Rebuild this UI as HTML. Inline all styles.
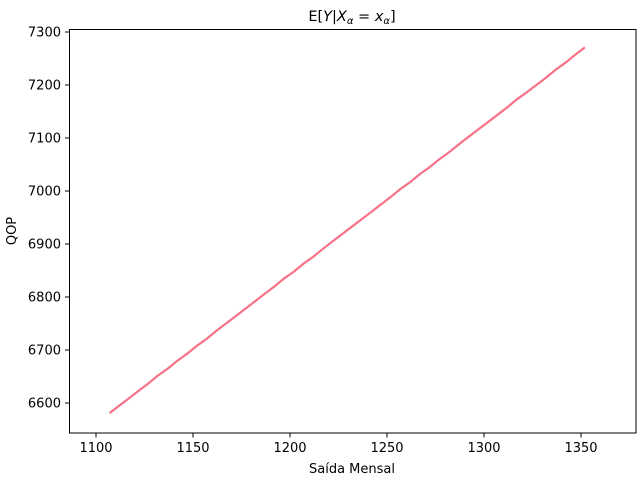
<!DOCTYPE html>
<html><head><meta charset="utf-8"><style>
body{margin:0;background:#fff;}
svg text{font-family:"DejaVu Sans","Liberation Sans",sans-serif;fill:#000;}
</style></head><body>
<svg id="chart" width="640" height="480" xmlns="http://www.w3.org/2000/svg">
<rect x="0" y="0" width="640" height="480" fill="#fff"/>
<g id="plot"></g>
<rect x="69.5" y="29.5" width="566.5" height="403.5" fill="none" stroke="#000" stroke-width="1"/>
<g id="xt"></g>
<g id="yt"></g>
<text x="352" y="21" font-size="14.5" text-anchor="middle">E[<tspan font-style="italic">Y</tspan>|<tspan font-style="italic">X</tspan><tspan font-style="italic" font-size="10" dy="3">α</tspan><tspan dy="-3"> = </tspan><tspan font-style="italic">x</tspan><tspan font-style="italic" font-size="10" dy="3">α</tspan><tspan dy="-3">]</tspan></text>
<text x="352" y="473" font-size="13" text-anchor="middle">Saída Mensal</text>
<text x="16" y="231" font-size="13" text-anchor="middle" transform="rotate(-90 16 231)">QOP</text>
</svg>
<script>
const xs=[1107,1112,1117,1122,1127,1132,1137,1142,1147,1152,1157,1162,1167,1172,1177,1182,1187,1192,1197,1202,1207,1212,1217,1222,1227,1232,1237,1242,1247,1252,1257,1262,1267,1272,1277,1282,1287,1292,1297,1302,1307,1312,1317,1322,1327,1332,1337,1342,1347,1352];
const ys=[6581,6595,6609,6623,6637,6652,6665,6680,6693,6708,6721,6736,6750,6764,6778,6792,6806,6820,6835,6848,6863,6876,6891,6905,6919,6933,6947,6961,6975,6989,7004,7017,7032,7045,7060,7073,7088,7102,7116,7130,7144,7158,7173,7186,7200,7214,7229,7242,7257,7271];
const xTicks=[1100,1150,1200,1250,1300,1350];
const yTicks=[6600,6700,6800,6900,7000,7100,7200,7300];
const NS="http://www.w3.org/2000/svg";
function X(v){return 96+(v-1100)*(485/250);}
function Y(v){return 403-(v-6600)*(371/700);}
const plot=document.getElementById('plot');
const line=document.createElementNS(NS,'polyline');
line.setAttribute('points',xs.map((x,i)=>X(x).toFixed(1)+','+Y(ys[i]).toFixed(1)).join(' '));
line.setAttribute('fill','none');line.setAttribute('stroke','#f77189');line.setAttribute('stroke-width','2.2');


plot.appendChild(line);
const xt=document.getElementById('xt');
xTicks.forEach(t=>{
 const l=document.createElementNS(NS,'line');
 l.setAttribute('x1',X(t));l.setAttribute('x2',X(t));l.setAttribute('y1',433);l.setAttribute('y2',437.5);l.setAttribute('stroke','#000');
 
 
 xt.appendChild(l);
 const s=document.createElementNS(NS,'text');
 s.setAttribute('x',X(t));s.setAttribute('y',452);s.setAttribute('font-size','13');s.setAttribute('text-anchor','middle');
 s.textContent=t;
 
 
 xt.appendChild(s);
});
const yt=document.getElementById('yt');
yTicks.forEach(t=>{
 const l=document.createElementNS(NS,'line');
 l.setAttribute('x1',65);l.setAttribute('x2',69.5);l.setAttribute('y1',Y(t));l.setAttribute('y2',Y(t));l.setAttribute('stroke','#000');
 
 
 yt.appendChild(l);
 const s=document.createElementNS(NS,'text');
 s.setAttribute('x',61);s.setAttribute('y',Y(t)+4.5);s.setAttribute('font-size','13');s.setAttribute('text-anchor','end');
 s.textContent=t;
 
 
 yt.appendChild(s);
});
</script>
</body></html>
